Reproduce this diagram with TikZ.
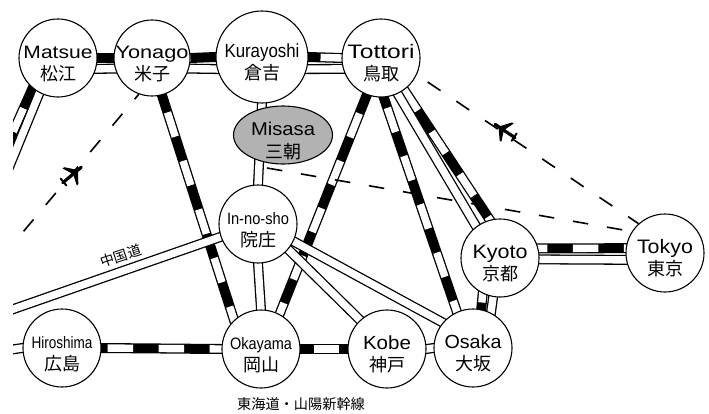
\documentclass[tikz,border=0pt]{standalone}
\usepackage{fontspec}
\usepackage{graphicx}
\setmainfont{Liberation Sans}
\newfontfamily\jpfont{Noto Sans CJK JP}
\usetikzlibrary{shapes.geometric}
\pgfdeclarelayer{background}
\pgfsetlayers{background,main}
\tikzset{
  stationDecorate/.style={shape=circle,draw,line width=1.1pt,fill=white,inner sep=0pt,minimum size=#1},
  enDecorate/.style={anchor=base,inner sep=0pt},
  jpDecorate/.style={inner sep=0pt,font=\jpfont\fontsize{18}{18}\selectfont},
  rail/.style={draw=black,line width=10pt,shorten <=-4pt,shorten >=-4pt,
    postaction={draw=white,line width=7.4pt,dash pattern=on 25.5pt off 25.5pt,dash phase=#1}},
  road/.style={draw=black,line width=1.3pt,double=white,double distance=7.4pt,shorten <=-4pt,shorten >=-4pt},
  flight/.style={draw=black,line width=1.6pt,dash pattern=on 15.5pt off 19pt,dash phase=#1},
  plane/.pic={
    \draw[line width=3.2pt,line cap=round] (-12,0) -- (12,0);
    \fill (-3,-11) -- (-1,-11) -- (7,-1) -- (7,1) -- (-1,11) -- (-3,11) -- (1,1) -- (1,-1) -- cycle;
    \draw[line width=2pt,line cap=round] (-11,-4.5) -- (-11,4.5);
  }
}
\begin{document}
\begin{tikzpicture}[x=1pt,y=-1pt]
\useasboundingbox (0,0) rectangle (709,413);
%% stations
\foreach \nodename/\x/\y/\size/\en/\enwidth/\ensize/\jp in {
  matsue/58/58/78/Matsue/69/18/松江, yonago/152/58/76/Yonago/73/18/米子,
  kurayoshi/262/57/92/Kurayoshi/75/19/倉吉, tottori/381/58/78/Tottori/67/19.5/鳥取,
  innosho/258/224/78/In-no-sho/62/16.5/院庄, hiroshima/62/348/78/Hiroshima/61/16.5/広島,
  okayama/261/349/78/Okayama/62/16.5/岡山, kobe/387/349/78/Kobe/48/19/神戸,
  osaka/473/348/78/Osaka/57/19/大坂, kyoto/500/258/78/Kyoto/55/19.5/京都,
  tokyo/665/253/78/Tokyo/56/19.5/東京}
{
  \node[stationDecorate=\size pt] (\nodename) at (\x,\y) {};
  \node[enDecorate] (\nodename en) at (\nodename.center)
    {\resizebox{\enwidth pt}{\height}{\fontsize{\ensize}{\ensize}\selectfont \en}};
  \node[jpDecorate] (\nodename jp) at ([yshift=-16pt]\nodename.center) {\jp};
}
\node[shape=ellipse,draw,line width=1.1pt,fill=black!30,inner sep=0pt,minimum width=99pt,minimum height=58pt] (misasa) at (283,135) {};
\node[enDecorate] (misasa en) at (misasa.center)
  {\resizebox{64pt}{\height}{\fontsize{18.5}{18.5}\selectfont Misasa}};
\node[jpDecorate] (misasa jp) at ([yshift=-17pt]misasa.center) {三朝};
%% captions
\node[inner sep=0pt,font=\jpfont\fontsize{14.2}{14.2}\selectfont] (shinkansen) at (301,404) {東海道・山陽新幹線};
\node[inner sep=0pt,rotate=18,font=\jpfont\fontsize{14}{14}\selectfont] (chugoku) at (121,256) {中国道};
%% free ends
\coordinate (matsueRail) at (5,150);
\coordinate (matsueRoad) at (5,177);
\coordinate (hiroshimaRoad) at (5,350.5);
\coordinate (chugokuRoad) at (5,312);
\coordinate (flightEnd) at (23,232);
\coordinate (busStart) at (267,168);
%% connectors
\begin{pgfonlayer}{background}
\clip (13,0) rectangle (709,413);
\foreach \from/\to/\phase in {
  matsue.0/yonago.180/22, yonago.0/kurayoshi.180/21.5, kurayoshi.0/tottori.180/35,
  yonago.-75/okayama.133/29, tottori.249/okayama.62/27, tottori.274/osaka.114/36,
  tottori.306/kyoto.105/48, hiroshima.0/okayama.180/41, okayama.0/kobe.180/34,
  kobe.0/osaka.180/0, kyoto.14/tokyo.173/12.5, kyoto.244/osaka.78/12.5,
  matsue.-130/matsueRail/25}
  \draw[rail=\phase] (\from) -- (\to);
\foreach \from/\to in {
  matsue.-16/yonago.196, yonago.-16/kurayoshi.195, kurayoshi.-15/tottori.196,
  kurayoshi.270/innosho.90, innosho.270/okayama.90, tottori.295/kyoto.127,
  innosho.334/osaka.140, innosho.320/kobe.133, kyoto.-2/tokyo.190,
  kyoto.260/osaka.63, innosho.199/chugokuRoad, hiroshima.180/hiroshimaRoad,
  matsue.-118/matsueRoad}
  \draw[road] (\from) -- (\to);
\draw[flight=9] (yonago.250) -- (flightEnd);
\draw[flight=21.5] (tottori.-25) -- (tokyo.132);
\draw[flight=0] (busStart) -- (tokyo.147);
\end{pgfonlayer}
%% planes
\pic[rotate=40] at (72,175) {plane};
\pic[rotate=146] at (505,131) {plane};
\end{tikzpicture}
\end{document}
